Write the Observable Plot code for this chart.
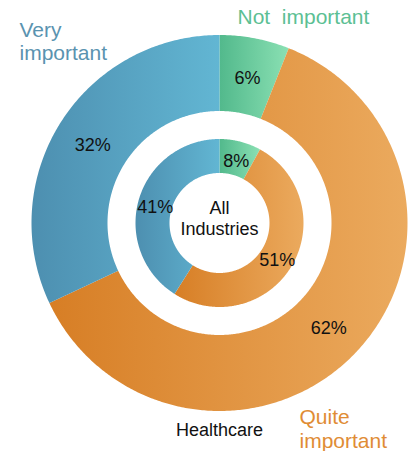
<!DOCTYPE html>
<html>
<head>
<meta charset="utf-8">
<script src="https://cdn.jsdelivr.net/npm/d3@7"></script>
<script src="https://cdn.jsdelivr.net/npm/@observablehq/plot@0.6"></script>
<style>
  html, body { margin: 0; padding: 0; background: #fff; }
  svg text { white-space: pre; }
</style>
</head>
<body>
<div id="chart"></div>
<script>
// ---- data ----
const categories = ["Not  important", "Quite important", "Very important"];
const healthcare = [6, 62, 32];      // outer ring
const allIndustries = [8, 51, 41];   // inner ring
const outerName = "Healthcare";
const innerName = "All\nIndustries";

// ---- layout ----
const W = 418, H = 451;
const CX = 219, CY = 222.5;
const outerR = [112, 188];
const innerR = [50, 84];
const gradIds = ["gNot", "gQuite", "gVery"];
const gradStops = [["#52b98c", "#8ae0b3"], ["#d77e25", "#ebaa5e"], ["#4d8fb0", "#62b6d3"]];
const labelColors = ["#5cbf94", "#e08c35", "#5a93b0"];
const font = "Liberation Sans, Arial, sans-serif";

function segments(values, radii) {
  const total = d3.sum(values);
  let acc = 0;
  return values.map((v, i) => {
    const a0 = acc / total * 2 * Math.PI;
    acc += v;
    const a1 = acc / total * 2 * Math.PI;
    const n = Math.max(8, Math.ceil((a1 - a0) / 0.01));
    const pts = [];
    for (let k = 0; k <= n; k++) {
      const a = a0 + (a1 - a0) * k / n;
      pts.push({x: radii[1] * Math.sin(a), y: radii[1] * Math.cos(a)});
    }
    for (let k = n; k >= 0; k--) {
      const a = a0 + (a1 - a0) * k / n;
      pts.push({x: radii[0] * Math.sin(a), y: radii[0] * Math.cos(a)});
    }
    const am = (a0 + a1) / 2, rm = (radii[0] + radii[1]) / 2;
    return {i, value: v, pts, label: {x: rm * Math.sin(am), y: rm * Math.cos(am), text: v + "%"}};
  });
}

const outerSegs = segments(healthcare, outerR);
const innerSegs = segments(allIndustries, innerR);

function defsMark() {
  const svgNS = "http://www.w3.org/2000/svg";
  const defs = document.createElementNS(svgNS, "defs");
  gradIds.forEach((id, i) => {
    const g = document.createElementNS(svgNS, "linearGradient");
    g.setAttribute("id", id);
    g.setAttribute("x1", "0"); g.setAttribute("y1", "0");
    g.setAttribute("x2", "1"); g.setAttribute("y2", "0");
    gradStops[i].forEach((c, j) => {
      const s = document.createElementNS(svgNS, "stop");
      s.setAttribute("offset", j === 0 ? "0%" : "100%");
      s.setAttribute("stop-color", c);
      g.appendChild(s);
    });
    defs.appendChild(g);
  });
  return defs;
}

const ringMarks = [...outerSegs, ...innerSegs].map(s =>
  Plot.line(s.pts, {x: "x", y: "y", curve: "linear-closed", fill: `url(#${gradIds[s.i]})`, stroke: "none"})
);

const pctLabels = [...outerSegs, ...innerSegs].map(s => s.label);

const chart = Plot.plot({
  width: W,
  height: H,
  margin: 0,
  style: {fontFamily: font, background: "#fff", overflow: "visible"},
  x: {domain: [-CX, W - CX], range: [0, W], axis: null},
  y: {domain: [CY, CY - H], range: [0, H], axis: null},
  marks: [
    defsMark,
    ...ringMarks,
    Plot.text(pctLabels, {x: "x", y: "y", dy: 3, text: "text", fontSize: 18, fill: "#111"}),
    Plot.text([innerName], {x: 0, y: 0, dy: -24, lineAnchor: "top", lineHeight: 1.17, fontSize: 18, fill: "#111"}),
    Plot.text([outerName], {x: 0, y: -200.5, lineAnchor: "top", fontSize: 18, fill: "#111"}),
    Plot.text(["Very\nimportant"], {frameAnchor: "top-left", dx: 19, dy: 19, textAnchor: "start", lineAnchor: "top", lineHeight: 1.14, fontSize: 21, fill: labelColors[2]}),
    Plot.text([categories[0]], {frameAnchor: "top-left", dx: 237, dy: 9, textAnchor: "start", lineAnchor: "top", fontSize: 21, fill: labelColors[0]}),
    Plot.text(["Quite\nimportant"], {frameAnchor: "top-left", dx: 299, dy: 407, textAnchor: "start", lineAnchor: "top", lineHeight: 1.12, fontSize: 21, fill: labelColors[1]})
  ]
});
document.getElementById("chart").appendChild(chart);
</script>
</body>
</html>
